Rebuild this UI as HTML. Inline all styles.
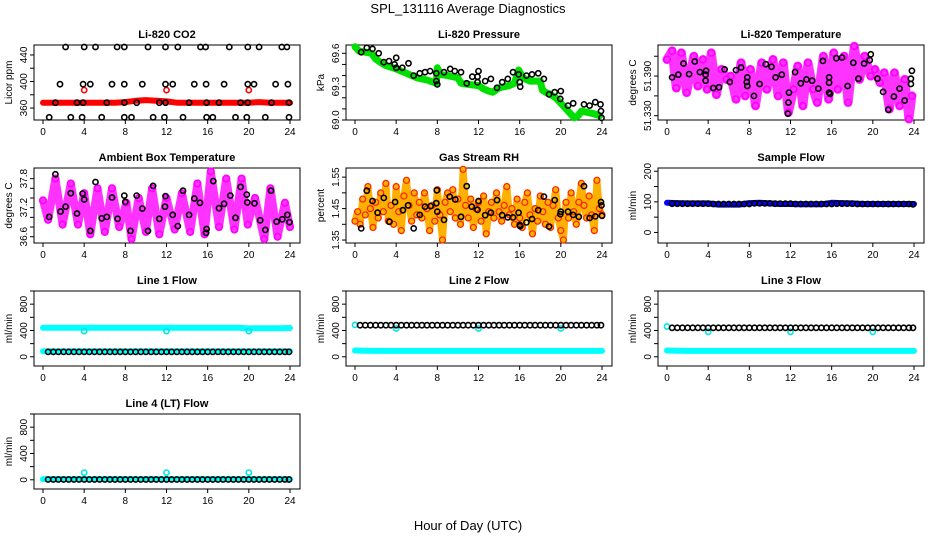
<!DOCTYPE html>
<html><head><meta charset="utf-8">
<style>
html,body{margin:0;padding:0;background:#fff;}
svg{display:block;font-family:"Liberation Sans",Arial,sans-serif;}
</style></head>
<body>
<svg id="chart" width="936" height="540" viewBox="0 0 936 540" xmlns="http://www.w3.org/2000/svg">
<text x="468" y="13" text-anchor="middle" font-size="13">SPL_131116  Average Diagnostics</text>
<text x="468" y="530" text-anchor="middle" font-size="13">Hour of Day (UTC)</text>
</svg>
<script>
// ---------- data ----------
const xTicks=[0,4,8,12,16,20,24];
// CO2
const co2BlackT=[2.2,4.0,5.1,7.2,7.9,10.2,11.9,13.1,15.3,15.8,18.1,19.9,21.0,23.2,23.7,1.65,3.9,4.6,6.7,7.9,9.65,11.9,12.6,14.7,15.85,17.6,19.9,20.5,22.6,23.8,1.2,3.3,3.9,6.2,7.9,9.1,11.3,11.9,14.2,15.9,17.1,19.2,19.9,22.2,23.9,0.6,2.7,3.8,5.7,7.9,8.6,10.7,11.8,13.6,15.9,16.5,18.7,19.8,21.6,23.9];
const co2BlackV=[452,452,452,452,452,452,452,452,452,452,452,452,452,452,452,396,396,396,396,396,396,396,396,396,396,396,396,396,396,396,368,368,368,368,368,368,368,368,368,368,368,368,368,368,368,346,346,346,346,346,346,346,346,346,346,346,346,346,346,346];
const co2RedT=[0,1,2,3,4,5,6,7,8,9,10,11,12,13,14,15,16,17,18,19,20,21,22,23,24];
const co2RedV=[368,368,368,368,368,368,368,368,369,371,372,371,370,368,368,368,368,368,368,368,368,369,368,368,368];
const co2SpikeT=[4,12,20];
const co2SpikeV=[387,387,387];
// Pressure
const presGreenT=[0,0.4,1,1.6,2,2.6,3,4,4.5,5,6,7,7.9,8,8.3,9,10,10.3,11,12,12.5,13,13.4,14,15,15.5,15.9,16.2,16.5,17,18,18.2,18.5,19,19.5,20,20.5,21,21.3,21.7,22,23,23.8];
const presGreenV=[69.66,69.62,69.61,69.6,69.55,69.51,69.49,69.46,69.44,69.42,69.38,69.36,69.33,69.47,69.41,69.40,69.38,69.33,69.32,69.31,69.28,69.26,69.25,69.29,69.31,69.33,69.45,69.40,69.37,69.35,69.35,69.27,69.25,69.23,69.20,69.15,69.10,69.05,69.02,69.04,69.08,69.06,69.04];
const presBlackT=[0.6,1.15,1.7,2.3,2.8,3.3,3.85,4.0,4.0,4.6,5.2,5.7,6.3,6.8,7.3,7.9,7.9,8.0,8.65,9.25,9.7,10.3,10.85,11.4,11.9,12.0,11.9,12.65,13.2,13.8,14.3,14.85,15.35,15.9,16.0,16.05,16.65,17.2,17.8,18.35,18.85,19.4,20.0,19.95,20.7,21.2,22.25,22.8,23.35,23.85,23.9,23.95];
const presBlackV=[69.61,69.65,69.64,69.60,69.52,69.53,69.50,69.56,69.47,69.47,69.51,69.40,69.42,69.43,69.44,69.42,69.35,69.32,69.43,69.46,69.44,69.43,69.33,69.39,69.39,69.44,69.34,69.35,69.37,69.29,69.34,69.37,69.43,69.41,69.34,69.30,69.40,69.41,69.42,69.37,69.23,69.25,69.26,69.19,69.13,69.15,69.14,69.13,69.16,69.14,69.08,69.02];
// Li-820 temperature
const tempMagT=[0,0.5,0.9,1.4,1.9,2.6,3,3.5,3.9,4.3,4.8,5.3,5.8,6.2,6.7,7.2,7.6,8.1,8.6,9.2,9.7,10.3,10.8,11.3,11.8,12.3,12.7,13.2,13.7,14.2,14.6,15.2,15.7,16.2,16.6,17.2,17.6,18.2,18.7,19.2,19.8,20.2,20.7,21.1,21.6,22.1,22.6,23.1,23.5,23.8];
const tempMagV=[51.415,51.428,51.372,51.425,51.365,51.42,51.375,51.415,51.37,51.425,51.362,51.40,51.385,51.39,51.355,51.41,51.36,51.40,51.345,51.41,51.37,51.415,51.36,51.41,51.335,51.37,51.405,51.345,51.41,51.37,51.35,51.42,51.355,51.425,51.37,51.42,51.35,51.435,51.385,51.42,51.39,51.40,51.38,51.395,51.34,51.395,51.345,51.385,51.325,51.36];
const tempBlackT=[0.5,1.1,1.6,2.15,2.7,3.2,3.75,3.8,3.75,4.5,5.05,5.6,6.1,6.7,7.2,7.75,7.8,7.8,8.45,9.0,9.6,10.15,10.55,11.15,11.85,11.8,11.75,12.45,13.0,13.55,14.1,14.7,15.15,15.75,15.75,15.75,15.85,16.45,17.0,17.55,18.1,18.6,19.15,19.7,19.8,20.45,21.0,21.5,22.05,22.6,23.1,23.7,23.8,23.7];
const tempBlackV=[51.388,51.392,51.409,51.393,51.412,51.396,51.383,51.398,51.392,51.372,51.373,51.400,51.381,51.399,51.403,51.381,51.388,51.375,51.360,51.378,51.408,51.404,51.388,51.392,51.365,51.350,51.333,51.396,51.379,51.385,51.383,51.371,51.413,51.388,51.380,51.365,51.363,51.417,51.418,51.375,51.410,51.386,51.409,51.414,51.423,51.386,51.366,51.339,51.359,51.371,51.353,51.386,51.398,51.378];
// Ambient box temperature
const ambMagT=[0,0.5,1.2,1.9,2.7,3.4,4,4.6,5.3,6,6.7,7.4,8.1,8.6,9.3,10,10.6,11.3,12,12.8,13.5,14.3,15,15.7,16.3,17.1,17.8,18.6,19.3,19.9,20.6,21.5,22.1,22.8,23.5,24];
const ambMagV=[37.35,36.95,37.8,36.85,37.7,36.85,37.5,36.65,37.6,36.7,37.6,36.8,37.3,36.55,37.4,36.7,37.6,36.65,37.4,36.75,37.5,36.7,37.7,36.65,37.95,36.8,37.8,36.75,37.8,36.85,37.4,36.55,37.6,36.6,37.3,36.8];
const ambBlackT=[0.6,1.2,1.7,2.2,2.7,3.3,3.85,4.0,4.6,5.1,5.7,6.2,6.7,7.25,7.9,8.0,8.5,9.1,9.65,10.2,10.7,11.3,11.9,11.85,12.6,13.1,13.6,14.2,14.7,15.25,15.9,15.85,16.55,17.1,17.6,18.2,18.7,19.2,19.8,19.85,20.55,21.1,21.6,22.15,22.7,23.25,23.75,23.95];
const ambBlackV=[37.01,37.89,37.12,37.22,37.50,37.08,37.49,37.37,36.72,37.73,36.98,37.01,37.41,36.97,37.45,37.32,36.72,37.45,37.18,36.72,37.65,36.97,37.44,37.22,37.05,36.82,37.55,37.05,37.39,37.30,36.76,36.68,37.75,37.19,37.28,37.45,36.99,37.63,37.47,37.31,37.29,36.94,36.74,37.55,36.91,36.96,37.05,36.90];
// Gas stream RH (every 0.25 h)
const rhOrangeV=[1.41,1.44,1.40,1.48,1.43,1.52,1.45,1.39,1.47,1.42,1.50,1.44,1.53,1.41,1.46,1.40,1.52,1.44,1.38,1.49,1.54,1.46,1.41,1.50,1.43,1.47,1.42,1.50,1.45,1.38,1.46,1.41,1.51,1.43,1.35,1.47,1.50,1.44,1.51,1.42,1.48,1.40,1.575,1.46,1.42,1.48,1.39,1.45,1.47,1.41,1.49,1.37,1.44,1.47,1.42,1.50,1.44,1.41,1.46,1.52,1.43,1.45,1.40,1.48,1.42,1.39,1.47,1.50,1.43,1.37,1.45,1.41,1.49,1.44,1.40,1.47,1.39,1.46,1.51,1.42,1.38,1.35,1.47,1.42,1.50,1.44,1.40,1.47,1.53,1.46,1.42,1.49,1.43,1.38,1.54,1.45,1.43];
const rhBlackT=[0.6,1.15,1.7,2.2,2.8,3.35,3.9,4.65,5.15,5.7,6.3,6.8,7.35,7.9,7.95,8.0,8.65,9.2,9.75,10.3,10.85,11.35,11.9,12.0,12.65,13.2,13.8,14.3,14.85,15.35,15.9,16.0,16.05,16.65,17.2,17.8,18.35,18.85,19.4,20.0,19.95,20.7,21.2,21.75,22.25,22.8,23.35,23.9,23.95,24.0];
const rhBlackV=[1.387,1.507,1.474,1.437,1.484,1.408,1.471,1.445,1.460,1.387,1.430,1.456,1.458,1.467,1.508,1.440,1.414,1.488,1.479,1.424,1.521,1.456,1.446,1.474,1.429,1.437,1.477,1.429,1.422,1.422,1.437,1.398,1.394,1.406,1.417,1.445,1.488,1.393,1.477,1.440,1.432,1.440,1.430,1.424,1.521,1.420,1.425,1.471,1.460,1.427];
// Flows
const hourT=[0,1,2,3,4,5,6,7,8,9,10,11,12,13,14,15,16,17,18,19,20,21,22,23,24];
const flowBlackT=[0.5,1,1.5,2,2.5,3,3.5,4,4.5,5,5.5,6,6.5,7,7.5,8,8.5,9,9.5,10,10.5,11,11.5,12,12.5,13,13.5,14,14.5,15,15.5,16,16.5,17,17.5,18,18.5,19,19.5,20,20.5,21,21.5,22,22.5,23,23.5,23.9];
const sampleBlueV=[97,96,95,95,95,91,91,91,96,97,95,93,93,92,92,92,97,96,95,93,93,93,93,93,93];
const sampleBlackV=[94,94,94,94,94,94,94,94,93,93,93,93,93,93,93,93,95,95,95,95,94,94,94,94,93,93,93,93,93,93,93,93,94,94,94,94,93,93,93,93,93,93,93,93,93,93,93,92];
const line1CyanHiV=[440,440,440,440,440,440,440,440,440,440,440,440,440,440,440,440,440,440,440,440,432,435,435,435,438];
const line1CyanLoV=[85,85,85,85,85,85,85,85,85,85,85,85,85,85,85,85,85,85,85,85,85,85,85,85,85];
const line1BlackV=[75,75,75,75,75,75,75,75,75,75,75,75,75,75,75,75,75,75,75,75,75,75,75,75,75,75,75,75,75,75,75,75,75,75,75,75,75,75,75,75,75,75,75,75,75,75,75,75];
const line1DipV=[390,390,390];
const line2CyanLoV=[95,92,90,90,90,90,90,90,90,90,90,90,90,90,90,90,90,90,90,90,90,90,90,90,90];
const line2BlackV=[480,480,480,480,480,480,480,480,480,480,480,480,480,480,480,480,480,480,480,480,480,480,480,480,480,480,480,480,480,480,480,480,480,480,480,480,480,480,480,480,480,480,480,480,480,480,480,480];
const line2DipV=[430,430,430];
const line2StartV=[485];
const line3CyanLoV=[95,92,90,90,90,90,90,90,90,90,90,90,90,90,90,90,90,90,90,90,90,90,90,90,90];
const line3BlackV=[440,440,440,440,440,440,440,440,440,440,440,440,440,440,440,440,440,440,440,440,440,440,440,440,440,440,440,440,440,440,440,440,440,440,440,440,440,440,440,440,440,440,440,440,440,440,440,440];
const line3DipV=[380,380,380];
const line3StartV=[460];
const line4CyanLoV=[10,10,10,10,10,10,10,10,10,10,10,10,10,10,10,10,10,10,10,10,10,10,10,10,10];
const line4BlackV=[5,5,5,5,5,5,5,5,5,5,5,5,5,5,5,5,5,5,5,5,5,5,5,5,5,5,5,5,5,5,5,5,5,5,5,5,5,5,5,5,5,5,5,5,5,5,5,5];
const line4DipV=[110,110,110];
const dipT=[4,12,20];
const startT=[0];

// ---------- drawing ----------
const NS="http://www.w3.org/2000/svg";
const svg=document.getElementById('chart');
function mk(tag,attrs,parent){const e=document.createElementNS(NS,tag);for(const k in attrs)e.setAttribute(k,attrs[k]);(parent||svg).appendChild(e);return e;}

function panel(col,row,title,ylab,ymin,ymax,ticks,labels,slug){
  const bx=34+312*col, by=45+123*row, bw=266, bh=75;
  const x0=bx+9, x1=bx+256;
  const g=mk('g',{});
  
  
  const sx=t=>x0+(t/24)*(x1-x0);
  const sy=v=>by+bh-(v-ymin)/(ymax-ymin)*bh;
  const box=mk('rect',{x:bx,y:by,width:bw,height:bh,fill:'none',stroke:'#000','stroke-width':1},g);
  
  
  const tt=mk('text',{x:bx+bw/2,y:by-7,'text-anchor':'middle','font-size':11,'font-weight':'bold'},g);
  tt.textContent=title;
  
  
  const xa=mk('g',{},g);
  
  
  mk('line',{x1:sx(0),x2:sx(24),y1:by+bh,y2:by+bh,stroke:'#000'},xa);
  xTicks.forEach(t=>{
    mk('line',{x1:sx(t),x2:sx(t),y1:by+bh,y2:by+bh+4,stroke:'#000'},xa);
    const l=mk('text',{x:sx(t),y:by+bh+15,'text-anchor':'middle','font-size':10},xa);
    l.textContent=t;
    
    
  });
  const ya=mk('g',{},g);
  
  
  mk('line',{x1:bx,x2:bx,y1:sy(ticks[0]),y2:sy(ticks[ticks.length-1]),stroke:'#000'},ya);
  ticks.forEach(v=>mk('line',{x1:bx-4,x2:bx,y1:sy(v),y2:sy(v),stroke:'#000'},ya));
  labels.forEach(lb=>{
    const y=sy(parseFloat(lb));
    const l=mk('text',{x:0,y:0,'text-anchor':'middle','font-size':10,transform:`translate(${bx-7},${y}) rotate(-90)`},ya);
    l.textContent=lb;
    
    
  });
  const yl=mk('text',{x:0,y:0,'text-anchor':'middle','font-size':10,transform:`translate(${bx-22},${by+bh/2}) rotate(-90)`},ya);
  yl.textContent=ylab;
  
  
  const clip=mk('g',{},g);
  return {sx,sy,g:clip};
}
function band(p,T,V,color,w,name){
  const pts=T.map((t,i)=>p.sx(t).toFixed(1)+','+p.sy(V[i]).toFixed(1)).join(' ');
  const e=mk('polyline',{points:pts,fill:'none',stroke:color,'stroke-width':w,'stroke-linejoin':'round','stroke-linecap':'round'},p.g);
  
  
}
function pts(p,T,V,color,name,r,sw,fill){
  const gg=mk('g',{},p.g);
  
  
  T.forEach((t,i)=>{
    const c=mk('circle',{cx:p.sx(t).toFixed(1),cy:p.sy(V[i]).toFixed(1),r:r||2.6,fill:fill||'none',stroke:color,'stroke-width':sw||1.6},gg);
    
    
  });
}
const quarterT=rhOrangeV.map((v,i)=>i*0.25);

let p=panel(0,0,'Li-820 CO2','Licor ppm',342,455,[360,380,400,420,440],['360','400','440'],'co2');
band(p,co2RedT,co2RedV,'#ff0000',6,'co2-red-series');
pts(p,co2SpikeT,co2SpikeV,'#ff0000','co2-red-outliers');
pts(p,co2BlackT,co2BlackV,'#000','co2-black-series');

p=panel(1,0,'Li-820 Pressure','kPa',69.0,69.675,[69.0,69.1,69.2,69.3,69.4,69.5,69.6],['69.0','69.3','69.6'],'pressure');
band(p,presGreenT,presGreenV,'#00e000',7,'pressure-green-series');
pts(p,presBlackT,presBlackV,'#000','pressure-black-series');

p=panel(2,0,'Li-820 Temperature','degrees C',51.3235,51.437,[51.33,51.36,51.39,51.42],['51.330','51.390'],'li820-temp');
band(p,tempMagT,tempMagV,'#ff33ff',9,'li820-temp-magenta-series');
pts(p,tempMagT,tempMagV,'#ff00ff','li820-temp-magenta-points',3.2,1.6);
pts(p,tempBlackT,tempBlackV,'#000','li820-temp-black-series');

p=panel(0,1,'Ambient Box Temperature','degrees C',36.47,38.02,[36.6,36.8,37.0,37.2,37.4,37.6,37.8],['36.6','37.2','37.8'],'ambient-temp');
band(p,ambMagT,ambMagV,'#ff33ff',8,'ambient-magenta-series');
pts(p,ambMagT,ambMagV,'#ff00ff','ambient-magenta-points',3.2,1.6);
pts(p,ambBlackT,ambBlackV,'#000','ambient-black-series');

p=panel(1,1,'Gas Stream RH','percent',1.3406,1.579,[1.35,1.40,1.45,1.50,1.55],['1.35','1.45','1.55'],'rh');
band(p,quarterT,rhOrangeV,'#ffb000',7,'rh-orange-series');
pts(p,quarterT,rhOrangeV,'#ff2000','rh-orange-points',3,1.2,'#ffb000');
pts(p,rhBlackT,rhBlackV,'#000','rh-black-series');

p=panel(2,1,'Sample Flow','ml/min',-34.5,210.6,[0,50,100,150,200],['0','100','200'],'sample-flow');
band(p,hourT,sampleBlueV,'#0000ff',6,'sample-flow-blue-series');
pts(p,flowBlackT,sampleBlackV,'#000','sample-flow-black-series');

const lt=[0,200,400,600,800,1000], ll=['0','400','800'];
p=panel(0,2,'Line 1 Flow','ml/min',-140,1000,lt,ll,'line1-flow');
band(p,hourT,line1CyanHiV,'#00ffff',6,'line1-cyan-high');
band(p,hourT,line1CyanLoV,'#00ffff',6,'line1-cyan-low');
pts(p,dipT,line1DipV,'#00e5e5','line1-cyan-dips');
pts(p,flowBlackT,line1BlackV,'#000','line1-black-series');
p=panel(1,2,'Line 2 Flow','ml/min',-140,1000,lt,ll,'line2-flow');
band(p,hourT,line2CyanLoV,'#00ffff',6,'line2-cyan-low');
pts(p,startT,line2StartV,'#00e5e5','line2-cyan-start');
pts(p,dipT,line2DipV,'#00e5e5','line2-cyan-dips');
pts(p,flowBlackT,line2BlackV,'#000','line2-black-series');
p=panel(2,2,'Line 3 Flow','ml/min',-140,1000,lt,ll,'line3-flow');
band(p,hourT,line3CyanLoV,'#00ffff',6,'line3-cyan-low');
pts(p,startT,line3StartV,'#00e5e5','line3-cyan-start');
pts(p,dipT,line3DipV,'#00e5e5','line3-cyan-dips');
pts(p,flowBlackT,line3BlackV,'#000','line3-black-series');
p=panel(0,3,'Line 4 (LT) Flow','ml/min',-140,1000,lt,ll,'line4-flow');
band(p,hourT,line4CyanLoV,'#00ffff',6,'line4-cyan-low');
pts(p,dipT,line4DipV,'#00e5e5','line4-cyan-dips');
pts(p,flowBlackT,line4BlackV,'#000','line4-black-series');
</script>
</body></html>
